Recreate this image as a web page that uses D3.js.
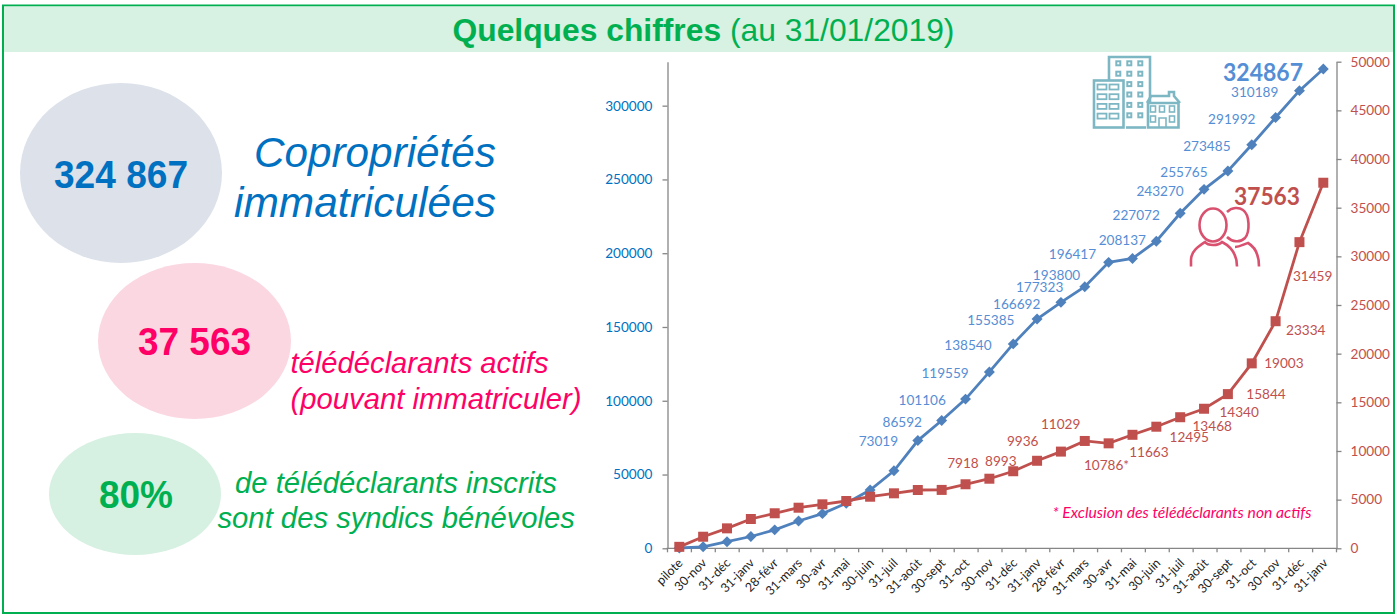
<!DOCTYPE html>
<html>
<head>
<meta charset="utf-8">
<script src="https://cdn.jsdelivr.net/npm/d3@7"></script>
<style>
  html, body { margin: 0; padding: 0; background: #fff; }
  svg { display: block; }
  .sans { font-family: "Liberation Sans", Arial, sans-serif; }
  .chart text { font-family: Lato, Carlito, sans-serif; }
</style>
</head>
<body>
<div id="chart"></div>
<script>
var categories = ["pilote", "30-nov", "31-déc", "31-janv", "28-févr", "31-mars", "30-avr", "31-mai", "30-juin", "31-juil", "31-août", "30-sept", "31-oct", "30-nov", "31-déc", "31-janv", "28-févr", "31-mars", "30-avr", "31-mai", "30-juin", "31-juil", "31-août", "30-sept", "31-oct", "30-nov", "31-déc", "31-janv"];

// coproprietes immatriculees (first values have no label, estimated)
var coproValues = [200, 1000, 4500, 8000, 12500, 18500, 23500, 30500, 39500, 52500, 73019, 86592, 101106, 119559, 138540, 155385, 166692, 177323, 193800, 196417, 208137, 227072, 243270, 255765, 273485, 291992, 310189, 324867];

// teledeclarants actifs
var teleValues = [150, 1190, 2050, 3010, 3600, 4170, 4520, 4860, 5300, 5650, 5990, 6000, 6580, 7150, 7918, 8993, 9936, 11029, 10786, 11663, 12495, 13468, 14340, 15844, 19003, 23334, 31459, 37563];

var leftTicks = [0, 50000, 100000, 150000, 200000, 250000, 300000];
var rightTicks = [0, 5000, 10000, 15000, 20000, 25000, 30000, 35000, 40000, 45000, 50000];

// Labels were placed by hand in the original: [index, dx, dy] from the point
var coproLabelOffsets = [[10, -40, 1], [11, -40, 1.5], [12, -44, 1], [13, -45, 1], [14, -46, 1], [15, -47, 1], [16, -45, 1.6], [17, -46, 1], [18, -53, 12.6], [19, -61, -4.6], [20, -35, -1], [21, -45, 2], [22, -45, 1.4], [23, -45, 1], [24, -46, 1], [25, -45, 1.5], [26, -46, 1.3]];
var teleLabelOffsets = [[14, -51, -8], [15, -37, 0], [16, -39, -10.6], [17, -25, -17], [18, -3, 22, "*"], [19, 15.5, 17], [20, 32, 11], [21, 31, 9], [22, 34, 3], [23, 37, 0], [24, 31, 0], [25, 29, 9], [26, 12, 34.5]];

var width = 1397, height = 616;
var green = "#00b050", blueAxis = "#0070c0", pink = "#ff0066";
var blueLine = "#4f81bd", blueLabel = "#558ed5", red = "#c0504d", axisGrey = "#868686";

var svg = d3.select("#chart").append("svg").attr("width", width).attr("height", height);

// Frame and title band
svg.append("rect").attr("x", 3).attr("y", 5.5).attr("width", 1391).attr("height", 607.5)
  .attr("fill", "#fff").attr("stroke", green).attr("stroke-width", 2);
svg.append("rect").attr("x", 4).attr("y", 6.5).attr("width", 1389).attr("height", 45.5).attr("fill", "#d7f1e2");

var title = svg.append("text").attr("class", "sans").attr("x", 703.5).attr("y", 41)
  .attr("text-anchor", "middle").attr("fill", green).style("font-size", "31.8px");
title.append("tspan").style("font-weight", "bold").text("Quelques chiffres");
title.append("tspan").text(" (au 31/01/2019)");

// Left panel
var bubbles = [
  { cx: 121, cy: 173, rx: 101, ry: 90, fill: "#dce1ea" },
  { cx: 194.5, cy: 341, rx: 96.5, ry: 78, fill: "#fbd7e2" },
  { cx: 135, cy: 494, rx: 86, ry: 61, fill: "#d6f0e2" },
];
svg.selectAll(".bubble").data(bubbles).enter().append("ellipse")
  .attr("class", "bubble")
  .attr("cx", (d) => d.cx).attr("cy", (d) => d.cy)
  .attr("rx", (d) => d.rx).attr("ry", (d) => d.ry)
  .attr("fill", (d) => d.fill);

// x is the left edge, w the width measured on the reference
var panelTexts = [
  { t: "324 867", x: 54, y: 188, w: 134, size: 39, bold: 1, fill: blueAxis },
  { t: "37 563", x: 138, y: 355, w: 113, size: 39, bold: 1, fill: pink },
  { t: "80%", x: 99, y: 508, w: 74, size: 39, bold: 1, fill: green },
  { t: "Copropriétés", x: 254, y: 166.5, w: 242, size: 43, fill: blueAxis },
  { t: "immatriculées", x: 234, y: 216.5, w: 262, size: 43, fill: blueAxis },
  { t: "télédéclarants actifs", x: 290.5, y: 373.2, w: 258, size: 29.3, fill: pink },
  { t: "(pouvant immatriculer)", x: 290.5, y: 409, w: 291, size: 29.3, fill: pink },
  { t: "de télédéclarants inscrits", x: 235, y: 492.8, w: 322, size: 29.3, fill: green },
  { t: "sont des syndics bénévoles", x: 217.5, y: 528, w: 357.5, size: 29.3, fill: green },
];
svg.selectAll(".panel-text").data(panelTexts).enter().append("text")
  .attr("class", "panel-text sans")
  .attr("x", (d) => d.x).attr("y", (d) => d.y)
  .attr("textLength", (d) => d.w).attr("lengthAdjust", "spacingAndGlyphs")
  .attr("fill", (d) => d.fill)
  .style("font-size", (d) => d.size + "px")
  .style("font-weight", (d) => (d.bold ? "bold" : "normal"))
  .style("font-style", (d) => (d.bold ? "normal" : "italic"))
  .text((d) => d.t);

// Chart
var chart = svg.append("g").attr("class", "chart");
var plot = { left: 667.5, right: 1336.5, top: 61.7, bottom: 548.3 };

var x = d3.scaleBand().domain(d3.range(categories.length)).range([plot.left, plot.right]);
var xc = (i) => x(i) + x.bandwidth() / 2;
// the marks sit a bit tighter than the axis ticks in the original
var xMark = d3.scalePoint().domain(d3.range(categories.length)).range([679.3, 1323.3]);
var yLeft = d3.scaleLinear().domain([0, 329800]).range([plot.bottom, plot.top]);
var yRight = d3.scaleLinear().domain([0, 50000]).range([plot.bottom, plot.top]);

function styleAxis(g, textColor) {
  g.selectAll("path, line").attr("stroke", axisGrey).attr("stroke-width", 1.3);
  g.selectAll("text").attr("fill", textColor).style("font-size", "13.6px");
}

chart.append("g").attr("transform", "translate(" + plot.left + ",0)")
  .call(d3.axisLeft(yLeft).tickValues(leftTicks).tickFormat(d3.format("d")).tickSize(5).tickSizeOuter(0).tickPadding(10))
  .call(styleAxis, blueAxis);

chart.append("g").attr("transform", "translate(" + plot.right + ",0)")
  .call(d3.axisRight(yRight).tickValues(rightTicks).tickFormat(d3.format("d")).tickSize(5).tickSizeOuter(0).tickPadding(9))
  .call(styleAxis, red);

// X axis: ticks between the categories
var xAxis = chart.append("g").attr("transform", "translate(0," + plot.bottom + ")");
xAxis.append("line").attr("x1", plot.left - 1).attr("x2", plot.right + 1)
  .attr("stroke", axisGrey).attr("stroke-width", 1.3);
xAxis.selectAll(".tick-mark").data(d3.range(categories.length + 1)).enter().append("line")
  .attr("class", "tick-mark")
  .attr("x1", (i) => plot.left + i * x.step()).attr("x2", (i) => plot.left + i * x.step())
  .attr("y1", 0).attr("y2", 4)
  .attr("stroke", axisGrey).attr("stroke-width", 1.3);
xAxis.selectAll(".cat").data(categories).enter().append("text")
  .attr("class", "cat")
  .attr("text-anchor", "end")
  .attr("fill", "#222")
  .attr("transform", (d, i) => "translate(" + (xc(i) + 4) + ",15.5) rotate(-45)")
  .style("font-size", "12.5px")
  .text((d) => d);

var lineCopro = d3.line().x((d, i) => xMark(i)).y((d) => yLeft(d));
var lineTele = d3.line().x((d, i) => xMark(i)).y((d) => yRight(d));

chart.append("path").attr("d", lineCopro(coproValues))
  .attr("fill", "none").attr("stroke", blueLine).attr("stroke-width", 2.8);
chart.selectAll(".copro").data(coproValues).enter().append("path")
  .attr("class", "copro")
  .attr("d", d3.symbol(d3.symbolSquare, 60))
  .attr("transform", (d, i) => "translate(" + xMark(i) + "," + yLeft(d) + ") rotate(45)")
  .attr("fill", blueLine);

chart.append("path").attr("d", lineTele(teleValues))
  .attr("fill", "none").attr("stroke", red).attr("stroke-width", 2.8);
chart.selectAll(".tele").data(teleValues).enter().append("path")
  .attr("class", "tele")
  .attr("d", d3.symbol(d3.symbolSquare, 100))
  .attr("transform", (d, i) => "translate(" + xMark(i) + "," + yRight(d) + ")")
  .attr("fill", red);

// Data labels
chart.selectAll(".copro-label").data(coproLabelOffsets).enter().append("text")
  .attr("class", "copro-label")
  .attr("x", (d) => xc(d[0]) + d[1])
  .attr("y", (d) => yLeft(coproValues[d[0]]) + d[2])
  .attr("dy", "0.35em").attr("text-anchor", "middle")
  .attr("fill", blueLabel).style("font-size", "13.6px")
  .text((d) => coproValues[d[0]]);

chart.selectAll(".tele-label").data(teleLabelOffsets).enter().append("text")
  .attr("class", "tele-label")
  .attr("x", (d) => xc(d[0]) + d[1])
  .attr("y", (d) => yRight(teleValues[d[0]]) + d[2])
  .attr("dy", "0.35em").attr("text-anchor", "middle")
  .attr("fill", red).style("font-size", "13.6px")
  .text((d) => teleValues[d[0]] + (d[3] || ""));

// Last values in bold
chart.append("text").attr("x", 1223).attr("y", 81).attr("textLength", 80).attr("lengthAdjust", "spacingAndGlyphs")
  .attr("fill", blueLabel).style("font-size", "24px").style("font-weight", "bold")
  .text(coproValues[coproValues.length - 1]);
chart.append("text").attr("x", 1234).attr("y", 205).attr("textLength", 66).attr("lengthAdjust", "spacingAndGlyphs")
  .attr("fill", red).style("font-size", "24px").style("font-weight", "bold")
  .text(teleValues[teleValues.length - 1]);

chart.append("text").attr("x", 1052.5).attr("y", 518).attr("textLength", 259).attr("lengthAdjust", "spacingAndGlyphs")
  .attr("fill", pink).style("font-size", "15px").style("font-style", "italic")
  .text("* Exclusion des télédéclarants non actifs");

// Building icon
var teal = "#7db7c4";
var icon = svg.append("g").attr("fill", "none").attr("stroke", teal).attr("stroke-width", 2.6);
icon.append("path").attr("d", "M1109 80V57H1150V103");
icon.append("path").attr("d", "M1126 127.5H1146");
icon.append("rect").attr("x", 1094).attr("y", 80.5).attr("width", 29.5).attr("height", 47);
icon.append("path").attr("d", "M1148 103H1179M1147 103L1151 96H1169V92H1174V96L1180 103M1148 103V127.5H1178.5V103");
var windowsTall = [];
[0, 1, 2].forEach(function (c) {
  [0, 1, 2, 3, 4, 5].forEach(function (r) {
    if (c === 0 && r > 1) return;
    windowsTall.push([1116.3 + c * 11, 61.3 + r * 10.4]);
  });
});
icon.selectAll(".win").data(windowsTall).enter().append("rect")
  .attr("x", (d) => d[0]).attr("y", (d) => d[1])
  .attr("width", 4).attr("height", 4).attr("stroke-width", 2);
var windowsLow = [];
[0, 1].forEach(function (c) {
  [0, 1, 2, 3].forEach(function (r) {
    windowsLow.push([1097.5 + c * 12, 84.5 + r * 9.7]);
  });
});
icon.selectAll(".win2").data(windowsLow).enter().append("rect")
  .attr("x", (d) => d[0]).attr("y", (d) => d[1])
  .attr("width", 9).attr("height", 5).attr("stroke-width", 1.8);
var windowsHouse = [[1150.5, 106], [1159.5, 106], [1169.5, 106], [1150.5, 116], [1169.5, 116]];
icon.selectAll(".win3").data(windowsHouse).enter().append("rect")
  .attr("x", (d) => d[0]).attr("y", (d) => d[1])
  .attr("width", 5).attr("height", 6).attr("stroke-width", 1.6);
icon.append("path").attr("d", "M1159 127V118H1166V127").attr("stroke-width", 1.6);

// People icon
var people = svg.append("g").attr("fill", "none").attr("stroke", "#d9516f").attr("stroke-width", 2.6);
people.append("ellipse").attr("cx", 1213).attr("cy", 225).attr("rx", 13.5).attr("ry", 16.5);
people.append("path").attr("d", "M1227 212C1232 207 1239 207 1243 210C1250 215 1250 232 1245 238C1240 243 1232 242 1227 237");
people.append("path").attr("d", "M1191 266.5V260C1191 251 1199 246 1205 242C1208 246 1218 246 1222 242C1230 246 1237 253 1237 266.5");
people.append("path").attr("d", "M1235 247C1240 247 1244 244 1248 243C1255 247 1259 255 1259 266.5");
</script>
</body>
</html>
